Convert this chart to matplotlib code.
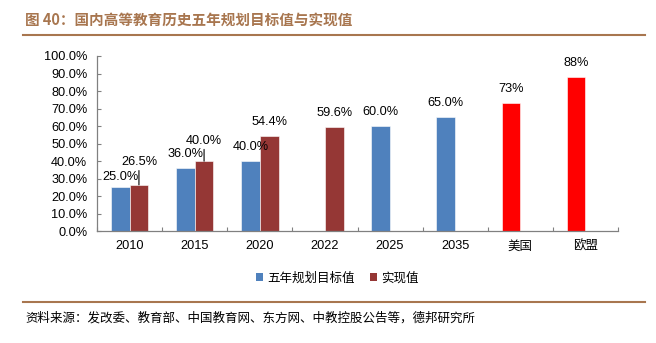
import numpy as np
import matplotlib
matplotlib.use("Agg")
import matplotlib.pyplot as plt
from matplotlib.patches import Patch
from matplotlib.lines import Line2D

plt.rcParams['font.family'] = ['Liberation Sans', 'Noto Sans CJK SC', 'DejaVu Sans']

categories = ['2010', '2015', '2020', '2022', '2025', '2035', '美国', '欧盟']
target = [25.0, 36.0, 40.0, np.nan, 60.0, 65.0, np.nan, np.nan]      # 五年规划目标值
actual = [26.5, 40.0, 54.4, 59.6, np.nan, np.nan, np.nan, np.nan]    # 实现值
intl = [np.nan, np.nan, np.nan, np.nan, np.nan, np.nan, 73, 88]      # 国际水平
yticks = [0, 10, 20, 30, 40, 50, 60, 70, 80, 90, 100]

BLUE = '#4F81BD'
DRED = '#953735'
RED = '#FF0000'
BROWN = '#A8764F'

W, H = 656, 343
fig = plt.figure(figsize=(W / 100, H / 100), dpi=100)
ax = fig.add_axes([97 / W, 1 - 231.3 / H, (618 - 97) / W, (231.3 - 56) / H])

x = np.arange(len(categories))
bw = 0.288
ax.bar(x - bw / 2, target, bw, color=BLUE, edgecolor='white', linewidth=0.4)
ax.bar(x + bw / 2, actual, bw, color=DRED, edgecolor='white', linewidth=0.4)
ax.bar(x - bw / 2, intl, bw, color=RED, edgecolor='white', linewidth=0.4)

ax.set_xlim(-0.5, len(categories) - 0.5)
ax.set_ylim(0, 100)
ax.set_yticks(yticks)
ax.set_yticklabels([f'{v:.1f}%' for v in yticks], fontsize=9.2)
ax.tick_params(axis='y', direction='in', length=3, pad=7, colors='black', color='#808080')

ax.set_xticks(np.arange(-0.5, len(categories), 1.0))
ax.set_xticklabels([])
ax.tick_params(axis='x', which='major', direction='in', length=3, color='#808080')
ax.set_xticks(x, minor=True)
ax.set_xticklabels(categories, minor=True, fontsize=9.2)
ax.tick_params(axis='x', which='minor', length=0, pad=6)
for lab in ax.get_xticklabels(minor=True):
    if not lab.get_text().isdigit():
        lab.set_fontfamily(['Noto Sans CJK SC'])
        lab.set_fontsize(9)

for s in ['top', 'right']:
    ax.spines[s].set_visible(False)
for s in ['left', 'bottom']:
    ax.spines[s].set_color('#808080')
    ax.spines[s].set_linewidth(0.9)

def fmt(v, cat):
    return f'{v:.0f}%' if not cat.isdigit() else f'{v:.1f}%'

# data labels
for i, cat in enumerate(categories):
    for vals, dx in ((target, -bw / 2), (actual, bw / 2), (intl, -bw / 2)):
        v = vals[i]
        if np.isnan(v):
            continue
        off = 10
        leader = False
        if vals is actual and cat == '2010':
            off, leader = 16.6, True
        elif vals is actual and cat == '2015':
            off, leader = 14.8, True
        elif vals is target and cat == '2010':
            off = 7.8
        kw = {}
        if leader:
            kw['arrowprops'] = dict(arrowstyle='-', color='black', lw=0.8,
                                    shrinkA=0, shrinkB=0)
        ax.annotate(fmt(v, cat), xy=(x[i] + dx, v), xytext=(0, off),
                    textcoords='offset points', ha='center', va='center',
                    fontsize=9.2, color='black', **kw)

# legend
handles = [Patch(facecolor=BLUE, edgecolor='none'), Patch(facecolor=DRED, edgecolor='none')]
leg = fig.legend(handles, ['五年规划目标值', '实现值'], loc='center',
                 bbox_to_anchor=(337 / W, 1 - 278.3 / H), ncol=2, frameon=False,
                 prop={'family': ['Noto Sans CJK SC'], 'size': 9},
                 handlelength=0.6, handleheight=0.6, handletextpad=0.3,
                 columnspacing=1.2)

# title and source
fig.text(25 / W, 1 - 20 / H, '图 40：国内高等教育历史五年规划目标值与实现值',
         fontsize=10.5, fontweight='bold', color=BROWN, ha='left', va='center',
         family=['Noto Sans CJK SC'])
fig.add_artist(Line2D([23 / W, 645 / W], [1 - 35 / H, 1 - 35 / H], color=BROWN, lw=1.5))
fig.add_artist(Line2D([23 / W, 645 / W], [1 - 301.7 / H, 1 - 301.7 / H], color=BROWN, lw=1.5))
fig.text(25 / W, 1 - 318 / H, '资料来源：发改委、教育部、中国教育网、东方网、中教控股公告等，德邦研究所',
         fontsize=9, color='black', ha='left', va='center', family=['Noto Sans CJK SC'])

fig.savefig('out.png', dpi=100)
